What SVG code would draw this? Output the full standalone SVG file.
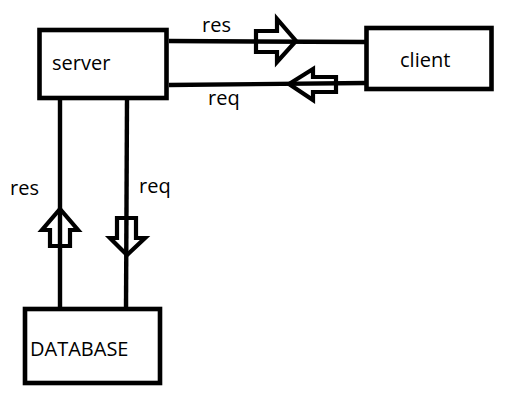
<svg xmlns="http://www.w3.org/2000/svg" width="516" height="415" viewBox="0 0 516 415">
<style>
.box{fill:#fff;stroke:#000;stroke-width:4.6}
.ln{fill:none;stroke:#000;stroke-width:4.4}
.arr{fill:none;stroke:#000;stroke-width:4.2;stroke-linejoin:miter}
text{font-family:"Open Sans","Liberation Sans",sans-serif;font-size:20px;fill:#000}
</style>
<rect width="516" height="415" fill="#fff"/>
<g id="connectors">
<line class="ln" x1="169" y1="41" x2="365" y2="42"/>
<line class="ln" x1="169" y1="85" x2="366" y2="83"/>
<line class="ln" x1="60" y1="100" x2="60" y2="310"/>
<line class="ln" x1="127" y1="100" x2="126" y2="310"/>
<polygon class="arr" points="256,31 277,31 277,19 296,41 277,62 277,52 256,52"/>
<polygon class="arr" points="336,77 313,77 313,69 289,84 313,100 313,92 336,92"/>
<polygon class="arr" points="50,246 70,246 70,230 78,230 60,209 42,230 50,230"/>
<polygon class="arr" points="117,218 136,218 136,238 145,238 127,255 110,238 117,238"/>
<text x="202" y="32">res</text>
<text x="208" y="105">req</text>
<text x="10" y="195">res</text>
<text x="139" y="193">req</text>
</g>
<g id="server">
<rect class="box" x="39.5" y="30" width="127" height="68"/>
<text x="52" y="70">server</text>
</g>
<g id="client">
<rect class="box" x="366.5" y="28" width="125" height="61"/>
<text x="400" y="67">client</text>
</g>
<g id="database">
<rect class="box" x="25" y="309" width="135" height="74"/>
<text x="30" y="356">DATABASE</text>
</g>
</svg>
